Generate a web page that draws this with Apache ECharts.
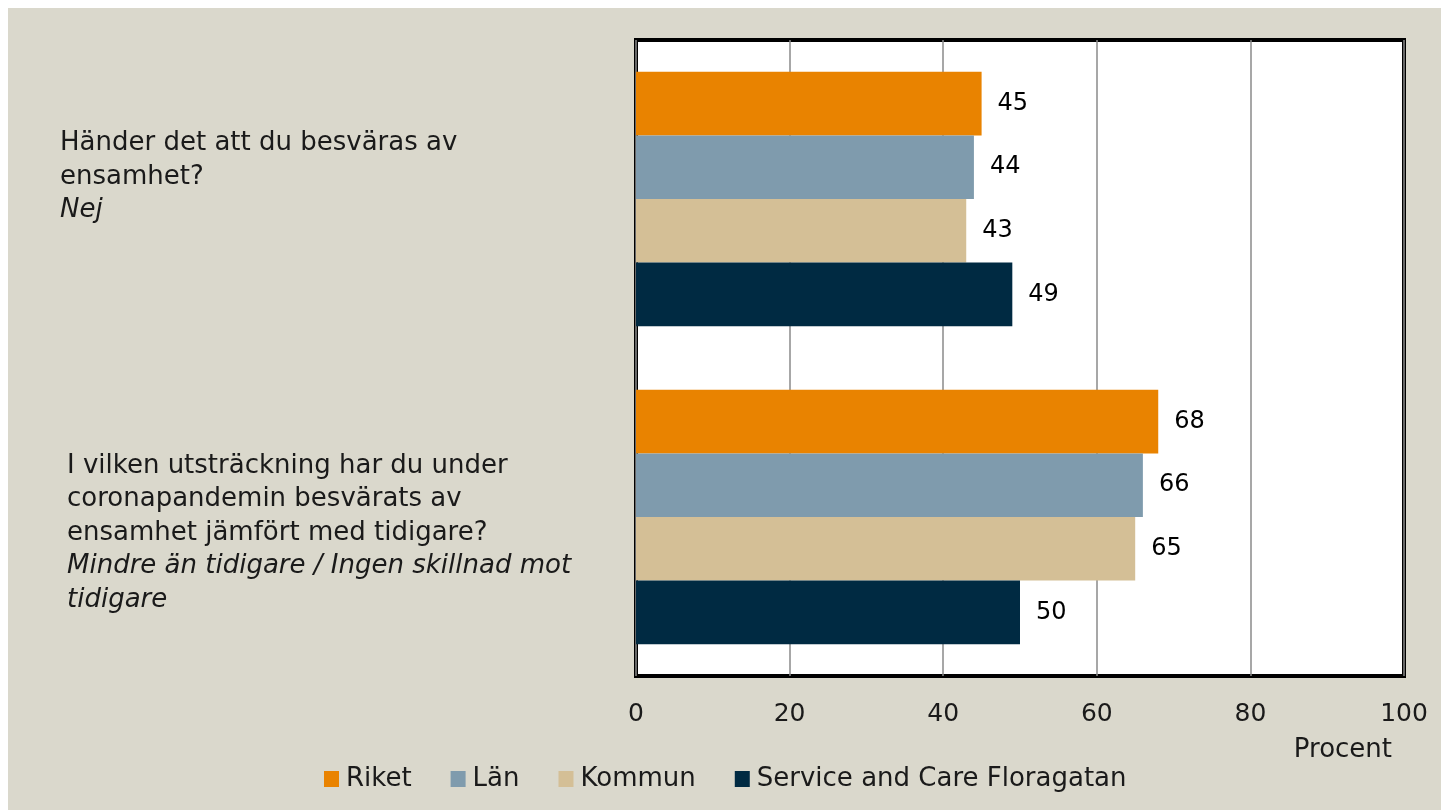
<!DOCTYPE html>
<html>
<head>
<meta charset="utf-8">
<script src="https://cdn.jsdelivr.net/npm/echarts@6/dist/echarts.min.js"></script>
<style>
html,body{margin:0;padding:0;background:#ffffff;}
#chart{position:absolute;left:8px;top:8px;width:1433px;height:802px;}
</style>
</head>
<body>
<div id="chart"></div>
<script>
const categories = ['q1', 'q2'];
const questionText = [
  ['Händer det att du besväras av', 'ensamhet?'],
  ['I vilken utsträckning har du under', 'coronapandemin besvärats av', 'ensamhet jämfört med tidigare?']
];
const answerText = [
  ['Nej'],
  ['Mindre än tidigare / Ingen skillnad mot', 'tidigare']
];
const seriesNames = ['Riket', 'Län', 'Kommun', 'Service and Care Floragatan'];
const riket = [45, 68];
const lan = [44, 66];
const kommun = [43, 65];
const floragatan = [49, 50];
const xTicks = [0, 20, 40, 60, 80, 100];
const colors = ['#E98300', '#7F9BAD', '#D4BF96', '#002A42'];
const FONT = 'DejaVu Sans';

const chart = echarts.init(document.getElementById('chart'));
const values = [riket, lan, kommun, floragatan];

function labelFormatter(value, idx) {
  const q = idx === 0 ? 'q' : 'q2';
  const a = idx === 0 ? 'a' : 'a2';
  let lines = [];
  if (idx === 1) lines.push('{sp2|\u00a0}');
  questionText[idx].forEach(t => lines.push('{' + q + '|' + t + '}'));
  answerText[idx].forEach(t => lines.push('{' + a + '|' + t + '}'));
  if (idx === 0) lines.push('{sp1|\u00a0}');
  return lines.join('\n');
}

const baseQ = {fontFamily: FONT, fontSize: 26, lineHeight: 33.5, color: '#1a1a1a'};
const option = {
  backgroundColor: '#DAD8CC',
  animation: false,
  textStyle: {fontFamily: FONT},
  grid: {
    left: 628, top: 32, right: 37, bottom: 134,
    show: true, backgroundColor: '#ffffff', borderColor: '#000000', borderWidth: 4,
    containLabel: false
  },
  legend: {
    left: 311, top: 753,
    itemWidth: 15, itemHeight: 16, itemGap: 39,
    icon: 'rect',
    textStyle: {fontFamily: FONT, fontSize: 26, color: '#1a1a1a', padding: [0, 0, 0, 2]},
    data: seriesNames
  },
  xAxis: {
    type: 'value', min: xTicks[0], max: xTicks[xTicks.length - 1], interval: 20,
    axisLine: {show: false}, axisTick: {show: false},
    splitLine: {show: true, lineStyle: {color: '#8a8a8a', width: 1.5}},
    axisLabel: {fontFamily: FONT, fontSize: 25, color: '#1a1a1a', margin: 26,
      formatter: v => xTicks.indexOf(v) >= 0 ? String(v) : ''},
    name: 'Procent', nameLocation: 'end', nameGap: -12,
    nameTextStyle: {fontFamily: FONT, fontSize: 26, color: '#1a1a1a', align: 'right', verticalAlign: 'top', padding: [61, 0, 0, 0]}
  },
  yAxis: {
    type: 'category', inverse: true, data: categories,
    axisLine: {show: false}, axisTick: {show: false},
    axisLabel: {
      interval: 0, align: 'left', margin: 576,
      formatter: labelFormatter,
      rich: {
        q: Object.assign({}, baseQ),
        q2: Object.assign({}, baseQ, {padding: [0, 0, 0, 7]}),
        a: Object.assign({}, baseQ, {fontStyle: 'italic'}),
        a2: Object.assign({}, baseQ, {fontStyle: 'italic', padding: [0, 0, 0, 7]}),
        sp1: {fontSize: 10, lineHeight: 44},
        sp2: {fontSize: 10, lineHeight: 32}
      }
    }
  },
  series: seriesNames.map((n, i) => ({
    name: n, type: 'bar', data: values[i],
    barGap: '0%', barCategoryGap: '20%',
    itemStyle: {color: colors[i]},
    label: {show: true, position: 'right', distance: 16, fontFamily: FONT, fontSize: 24, color: '#000000'}
  }))
};
chart.setOption(option);
</script>
</body>
</html>
